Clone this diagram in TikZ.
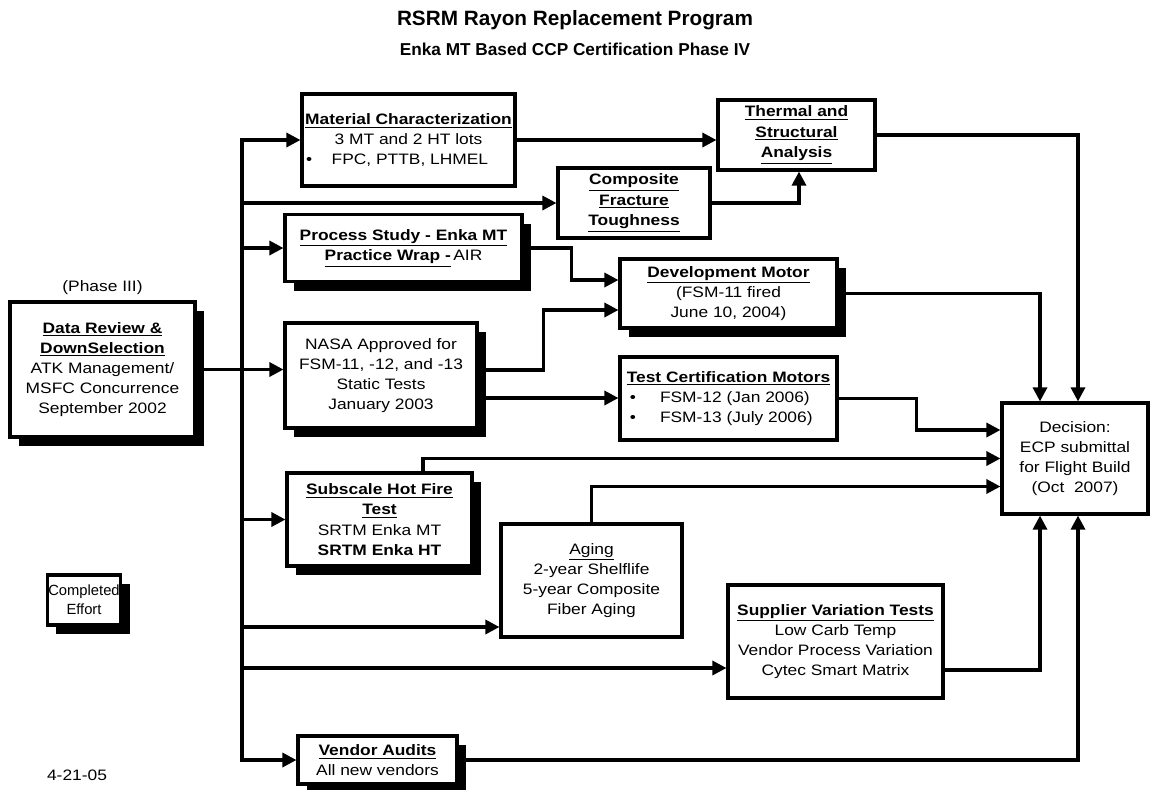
\documentclass[tikz,border=0pt]{standalone}
\usepackage{fontspec}
\setmainfont{Liberation Sans}
\newfontfamily\boxfont{Liberation Sans}[FakeStretch=1.15]
\usetikzlibrary{arrows.meta,shadows,positioning}
\tikzset{task node/.style={draw, line width=1.8pt, fill=white, align=center,
    inner sep=1pt, font=\boxfont\fontsize{8.6}{11.5}\selectfont}}
\tikzset{done node/.style={task node, drop shadow={fill=black, opacity=1,
    shadow xshift=0.18cm, shadow yshift=-0.18cm}}}
\tikzset{plain text/.style={font=\boxfont\fontsize{8.6}{11.5}\selectfont}}
\tikzset{flow edge/.style={draw, line width=1.8pt}}
\tikzset{flow arrow/.style={flow edge, -{Triangle[length=8pt, width=8pt]}}}
\begin{document}
\begin{tikzpicture}
      [x=0.02cm, y=-0.02cm]
      \useasboundingbox (0,0) rectangle (1150,789);
      \node (title)    at (575,20) {\fontsize{11.8}{14}\selectfont\bfseries RSRM Rayon Replacement Program};
      \node (subtitle) at (575,49) {\fontsize{9.8}{12}\selectfont\bfseries Enka MT Based CCP Certification Phase IV};

      \node [done node, minimum width=3.7cm, minimum height=2.7cm]   (review)   at (102.5,369.5)
            {\underline{\textbf{Data Review \&}}\\\underline{\textbf{DownSelection}}\\ATK Management/\\MSFC Concurrence\\September 2002};
      \node [plain text, above=0pt of review] (phase) {(Phase III)};
      \node [task node, minimum width=4.26cm, minimum height=1.84cm] (matchar)  at (408.5,140)
            {\underline{\textbf{Material Characterization}}\\3 MT and 2 HT lots\\\makebox[4.1cm][l]{\textbullet\hspace{1.3em}FPC, PTTB, LHMEL}};
      \node [task node, minimum width=3.14cm, minimum height=1.4cm]  (thermal)  at (796.5,135)
            {\underline{\textbf{Thermal and}}\\\underline{\textbf{Structural}}\\\underline{\textbf{Analysis}}};
      \node [task node, minimum width=3.04cm, minimum height=1.4cm]  (fracture) at (634,203)
            {\underline{\textbf{Composite}}\\\underline{\textbf{Fracture}}\\\underline{\textbf{Toughness}}};
      \node [done node, minimum width=4.74cm, minimum height=1.34cm] (process)  at (403.5,248)
            {\underline{\textbf{Process Study - Enka MT}}\\\underline{\textbf{Practice Wrap -}}\,AIR};
      \node [done node, minimum width=4.34cm, minimum height=1.38cm] (devmotor) at (728.5,293.5)
            {\underline{\textbf{Development Motor}}\\(FSM-11 fired\\June 10, 2004)};
      \node [done node, minimum width=3.84cm, minimum height=2.1cm]  (nasa)     at (381,375.5)
            {NASA Approved for\\FSM-11, -12, and -13\\Static Tests\\January 2003};
      \node [task node, minimum width=4.34cm, minimum height=1.66cm] (testcert) at (728.5,398.5)
            {\underline{\textbf{Test Certification Motors}}\\\makebox[3.95cm][l]{\textbullet\hspace{1.6em}FSM-12 (Jan 2006)}\\\makebox[3.95cm][l]{\textbullet\hspace{1.6em}FSM-13 (July 2006)}};
      \node [task node, minimum width=2.92cm, minimum height=2.22cm] (decision) at (1075,458.5)
            {Decision:\\ECP submittal\\for Flight Build\\(Oct\ \ 2007)};
      \node [done node, minimum width=3.7cm, minimum height=1.86cm]  (subscale) at (379.5,519.5)
            {\underline{\textbf{Subscale Hot Fire}}\\\underline{\textbf{Test}}\\SRTM Enka MT\\\textbf{SRTM Enka HT}};
      \node [task node, minimum width=3.62cm, minimum height=2.26cm] (aging)    at (591.5,580.5)
            {\underline{Aging}\\2-year Shelflife\\5-year Composite\\Fiber Aging};
      \node [task node, minimum width=4.3cm, minimum height=2.26cm]  (supplier) at (835.5,641.5)
            {\underline{\textbf{Supplier Variation Tests}}\\Low Carb Temp\\Vendor Process Variation\\Cytec Smart Matrix};
      \node [done node, minimum width=3.18cm, minimum height=0.96cm] (vendor)   at (377.5,760)
            {\underline{\textbf{Vendor Audits}}\\All new vendors};
      \node [done node, inner sep=0.5pt, minimum height=1cm, font=\fontsize{8.4}{10.8}\selectfont] (completed) at (84,600)
            {Completed\\Effort};
      \node [plain text] (date) at (77,775) {4-21-05};

      \coordinate (trunk top)    at (242,140);
      \coordinate (trunk bottom) at (242,760);
      \coordinate (aging in)     at ([yshift=-0.93cm]aging.west);
      \coordinate (supplier in)  at ([yshift=-0.53cm]supplier.west);
      \coordinate (dev in a)     at ([yshift=0.27cm]devmotor.west);
      \coordinate (dev in b)     at ([yshift=-0.33cm]devmotor.west);
      \coordinate (nasa out a)   at ([yshift=0.11cm]nasa.east);
      \coordinate (nasa out b)   at ([yshift=-0.45cm]nasa.east);
      \coordinate (subscale out) at ([xshift=0.87cm]subscale.north);
      \coordinate (supplier out) at ([yshift=-0.57cm]supplier.east);
      \coordinate (dec top a)    at ([xshift=-0.7cm]decision.north);
      \coordinate (dec top b)    at ([xshift=0.06cm]decision.north);
      \coordinate (dec bot a)    at ([xshift=-0.7cm]decision.south);
      \coordinate (dec bot b)    at ([xshift=0.06cm]decision.south);
      \coordinate (dec left a)   at ([yshift=0.57cm]decision.west);
      \coordinate (dec left c)   at ([yshift=-0.56cm]decision.west);

      \draw [flow arrow] (trunk bottom) |- (matchar.west);
      \draw [flow arrow] (trunk top) |- (vendor.west);
      \draw [flow arrow] (trunk top |- fracture.west) -- (fracture.west);
      \draw [flow arrow] (trunk top |- process.west) -- (process.west);
      \draw [flow arrow] (review.east) -- (review.east -| nasa.west);
      \draw [flow arrow] (trunk top |- subscale.west) -- (subscale.west);
      \draw [flow arrow] (trunk top |- aging in) -- (aging in);
      \draw [flow arrow] (trunk top |- supplier in) -- (supplier in);

      \draw [flow arrow] (matchar.east) -- (matchar.east -| thermal.west);
      \draw [flow arrow] (fracture.east) -| ([xshift=0.05cm]thermal.south);
      \draw [flow arrow] (process.east) -| ([xshift=-0.94cm]dev in a) -- (dev in a);
      \draw [flow arrow] (nasa out a) -| ([xshift=-1.5cm]dev in b) -- (dev in b);
      \draw [flow arrow] (nasa out b) -- (nasa out b -| testcert.west);
      \draw [flow arrow] (thermal.east) -| (dec top b);
      \draw [flow arrow] (devmotor.east) -| (dec top a);
      \draw [flow arrow] (testcert.east) -| ([xshift=-1.68cm]dec left a) -- (dec left a);
      \draw [flow arrow] (subscale out) |- (decision.west);
      \draw [flow arrow] (aging.north) |- (dec left c);
      \draw [flow arrow] (supplier out) -| (dec bot a);
      \draw [flow arrow] (vendor.east) -| (dec bot b);
    \end{tikzpicture}
\end{document}
